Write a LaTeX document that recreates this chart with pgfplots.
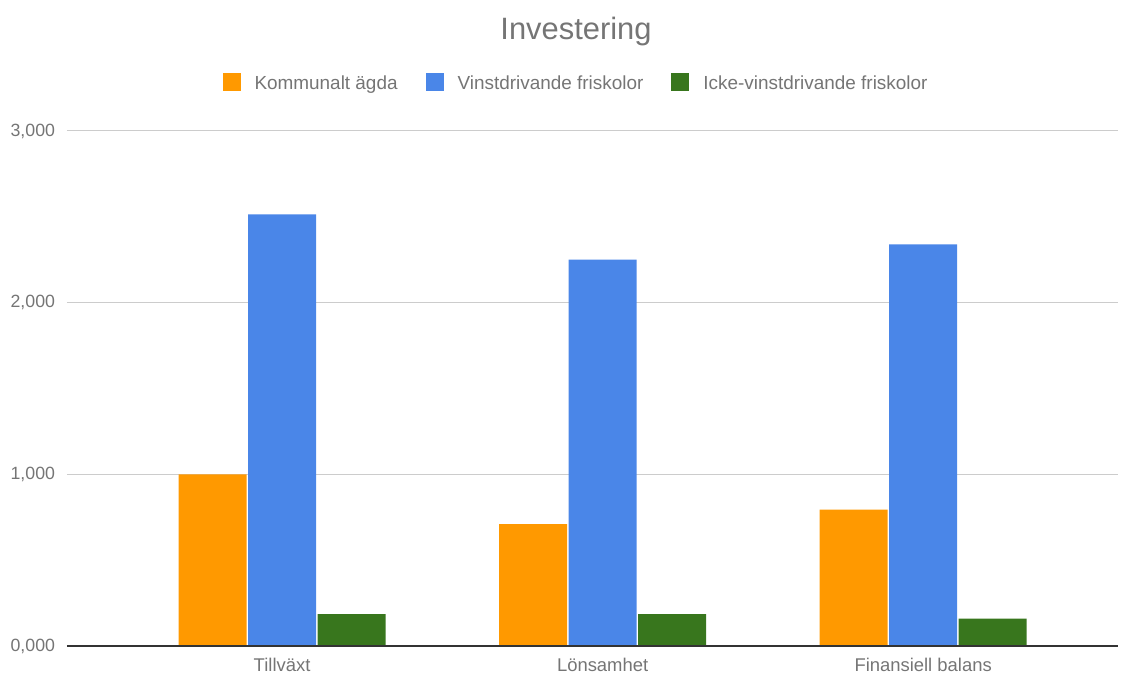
\documentclass[border=0pt]{standalone}
\usepackage{fontspec}
\setmainfont{Liberation Sans}
\usepackage{pgfplots}
\pgfplotsset{compat=1.18}
\definecolor{cOr}{HTML}{FF9900}
\definecolor{cBl}{HTML}{4A86E8}
\definecolor{cGr}{HTML}{38761D}
\definecolor{cTx}{HTML}{757575}
\definecolor{cGrid}{HTML}{CCCCCC}
\definecolor{cAx}{HTML}{333333}
\begin{document}
\begin{tikzpicture}
\useasboundingbox (-67bp,-31bp) rectangle (1065bp,646bp);
\begin{axis}[
  at={(0,0)}, anchor=south west,
  scale only axis, width=1051bp, height=515bp,
  xmin=-0.671, xmax=2.608, ymin=0, ymax=3000,
  clip=false,
  ybar=1.5bp, bar width=68bp,
  axis line style={draw=none},
  ymajorgrids, grid style={cGrid, line width=1bp},
  ytick={0,1000,2000,3000}, yticklabels={{0,000},{1,000},{2,000},{3,000}},
  xtick={0,1,2}, xticklabels={Tillväxt,Lönsamhet,Finansiell balans},
  major tick length=0pt,
  tick label style={text=cTx},
  y tick label style={font=\fontsize{17.8}{20}\selectfont, xshift=-8.5bp},
  x tick label style={font=\fontsize{18.5}{22}\selectfont, yshift=-9bp},
  every axis plot post/.append style={legend image code/.code={\fill[#1] (0bp,-7bp) rectangle (18bp,11bp);}},
  legend style={at={(0.4843,1.0932)}, anchor=center, draw=none, fill=none,
    legend columns=3, font=\fontsize{19}{22}\selectfont, text=cTx,
    /tikz/every odd column/.append style={column sep=12bp},
    /tikz/every even column/.append style={column sep=26bp}},
  legend cell align=left,
]
\addplot[fill=cOr, draw=none] coordinates {(0,1000) (1,710) (2,795)};
\addplot[fill=cBl, draw=none] coordinates {(0,2515) (1,2250) (2,2340)};
\addplot[fill=cGr, draw=none] coordinates {(0,185) (1,185) (2,160)};
\legend{Kommunalt ägda, Vinstdrivande friskolor, Icke-vinstdrivande friskolor}
\draw[cAx, line width=1.5bp] (rel axis cs:0,0) -- (rel axis cs:1,0);
\node[anchor=base, font=\fontsize{31}{36}\selectfont, text=cTx] at (rel axis cs:0.4843,1.1786) {Investering};
\end{axis}
\end{tikzpicture}
\end{document}
